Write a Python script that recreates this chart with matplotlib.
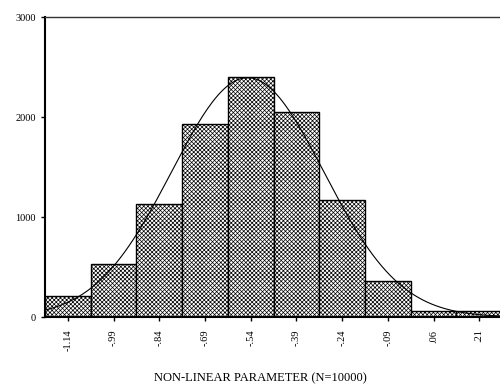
import matplotlib.pyplot as plt
import numpy as np

plt.rcParams['font.family'] = ['Liberation Serif', 'DejaVu Serif']
plt.rcParams['hatch.linewidth'] = 0.5
plt.rcParams['hatch.color'] = '#666666'

centers = [-1.14, -0.99, -0.84, -0.69, -0.54, -0.39, -0.24, -0.09, 0.06, 0.21]
tick_labels = ['-1.14', '-.99', '-.84', '-.69', '-.54', '-.39', '-.24', '-.09', '.06', '.21']
counts = [210, 530, 1130, 1930, 2400, 2050, 1170, 360, 60, 60]
bin_width = 0.15
n_total = 10000
mean = -0.55
sd = 0.25

fig = plt.figure(figsize=(5, 3.85), dpi=100)
ax = fig.add_axes([0.09, 0.1766, 0.91, 0.779])

ax.bar(centers, counts, width=bin_width, color='white', edgecolor='black',
       linewidth=1.0, hatch='xxxxxxxx')

xs = np.linspace(-1.215, 0.278, 300)
ys = n_total * bin_width / (sd * np.sqrt(2 * np.pi)) * np.exp(-(xs - mean) ** 2 / (2 * sd ** 2))
ax.plot(xs, ys, color='black', linewidth=0.8)

ax.set_xlim(-1.215, 0.278)
ax.set_ylim(0, 3000)
ax.set_yticks([0, 1000, 2000, 3000])
ax.set_xticks(centers)
ax.set_xticklabels(tick_labels, rotation=90)
ax.tick_params(axis='both', labelsize=7.5, length=3, width=1, direction='out')
ax.tick_params(axis='x', pad=6)

ax.spines['right'].set_visible(False)
ax.spines['left'].set_linewidth(1.5)
ax.spines['bottom'].set_linewidth(1.5)
ax.spines['top'].set_linewidth(1.0)
ax.spines['top'].set_color('#333333')

fig.text(0.52, 1 - 378 / 385, 'NON-LINEAR PARAMETER (N=10000)', fontsize=9,
         ha='center', va='center')

fig.savefig('out.png', dpi=100)
